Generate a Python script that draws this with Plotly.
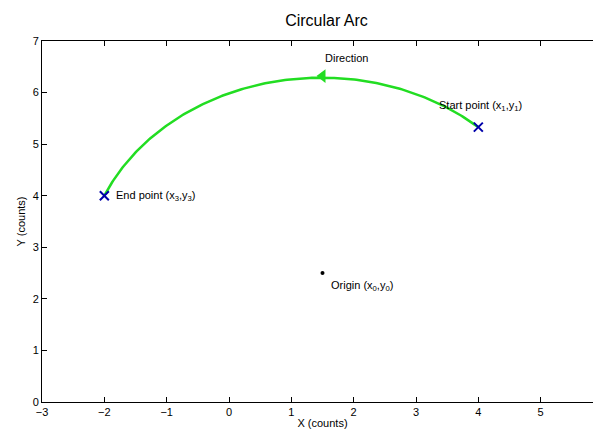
import plotly.graph_objects as go
import numpy as np

# points
origin = (1.5, 2.5)
start_pt = (4.0, 5.33)
end_pt = (-2.0, 4.0)
arrow_pt = (1.5, 6.32)

# circular arc through start and end around origin
r = np.hypot(start_pt[0] - origin[0], start_pt[1] - origin[1])
a0 = np.arctan2(start_pt[1] - origin[1], start_pt[0] - origin[0])
a1 = np.arctan2(end_pt[1] - origin[1], end_pt[0] - origin[0])
ang = np.linspace(a0, a1, 200)
r_end = np.hypot(end_pt[0] - origin[0], end_pt[1] - origin[1])
rad = np.linspace(r, r_end, 200)
arc_x = origin[0] + rad * np.cos(ang)
arc_y = origin[1] + rad * np.sin(ang)

fig = go.Figure()
fig.add_trace(go.Scatter(x=arc_x, y=arc_y, mode="lines",
                         line=dict(color="#22dd22", width=2.5)))
fig.add_trace(go.Scatter(x=[arrow_pt[0]], y=[arrow_pt[1]], mode="markers",
                         marker=dict(symbol="triangle-left", size=12, color="#22dd22")))
fig.add_trace(go.Scatter(x=[start_pt[0], end_pt[0]], y=[start_pt[1], end_pt[1]], mode="markers",
                         marker=dict(symbol="x-thin", size=9, line=dict(color="#0000aa", width=2))))
fig.add_trace(go.Scatter(x=[origin[0]], y=[origin[1]], mode="markers",
                         marker=dict(symbol="circle", size=4, color="black")))

font = dict(family="Liberation Sans, Arial", size=11, color="black")
notes = [
    (4.0, 5.33, "Start point (x<sub>1</sub>,y<sub>1</sub>)", "center", "bottom", 2, 12),
    (-2.0, 4.0, "End point (x<sub>3</sub>,y<sub>3</sub>)", "left", "middle", 10, 0),
    (1.5, 2.5, "Origin (x<sub>0</sub>,y<sub>0</sub>)", "left", "top", 6, -4),
    (1.5, 6.32, "Direction", "left", "bottom", 0, 10),
]
for x, y, t, xa, ya, dx, dy in notes:
    fig.add_annotation(x=x, y=y, text=t, showarrow=False, xanchor=xa, yanchor=ya,
                       xshift=dx, yshift=dy, font=font)

ax = dict(showgrid=False, zeroline=False, showline=True, mirror="ticks", linecolor="black",
          ticks="inside", ticklen=5, tickcolor="black", tickfont=font, dtick=1,
          automargin=False)
fig.update_layout(
    width=601, height=434, showlegend=False,
    paper_bgcolor="white", plot_bgcolor="white",
    margin=dict(l=34, r=6, t=33, b=40),
    title=dict(text="Circular Arc", x=0.53, y=0.985, yanchor="top",
               font=dict(family="Liberation Sans, Arial", size=16, color="black")),
    xaxis=dict(ax, range=[-3, 6], title=dict(text="X (counts)", font=font, standoff=2)),
    yaxis=dict(ax, range=[0, 7], title=dict(text="Y (counts)", font=font, standoff=4)),
)
fig.write_html("out.html")
